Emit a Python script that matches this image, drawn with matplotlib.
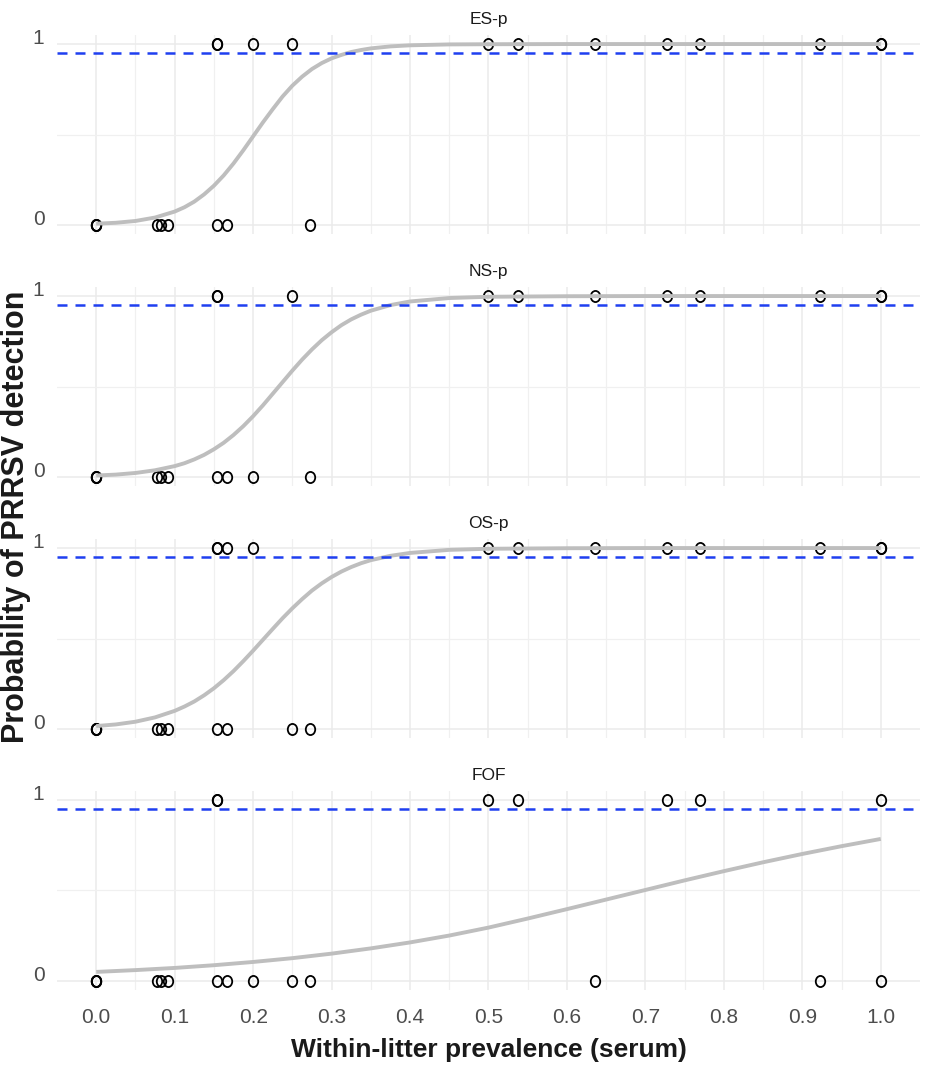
import matplotlib
matplotlib.use("Agg")
import matplotlib.pyplot as plt
from matplotlib.path import Path
import numpy as np

plt.rcParams['font.family'] = ['Liberation Sans', 'DejaVu Sans']

# panels
panels = ["ES-p", "NS-p", "OS-p", "FOF"]

# observed litters: x where detection = 1 and x where detection = 0
es_pos = [0.154, 0.154, 0.2, 0.25, 0.5, 0.538, 0.636, 0.727, 0.769, 0.923, 1.0, 1.0]
es_neg = [0, 0, 0, 0.077, 0.083, 0.091, 0.154, 0.167, 0.273]
ns_pos = [0.154, 0.154, 0.25, 0.5, 0.538, 0.636, 0.727, 0.769, 0.923, 1.0, 1.0]
ns_neg = [0, 0, 0, 0.077, 0.083, 0.091, 0.154, 0.167, 0.2, 0.273]
os_pos = [0.154, 0.154, 0.167, 0.2, 0.5, 0.538, 0.636, 0.727, 0.769, 0.923, 1.0, 1.0]
os_neg = [0, 0, 0, 0.077, 0.083, 0.091, 0.154, 0.167, 0.25, 0.273]
fof_pos = [0.154, 0.154, 0.5, 0.538, 0.727, 0.769, 1.0]
fof_neg = [0, 0, 0, 0.077, 0.083, 0.091, 0.154, 0.167, 0.2, 0.25, 0.273, 0.636, 0.923, 1.0]

# fitted curves
steep_x = [0, .025, .05, .075, .1, .1125, .125, .1375, .15, .1625, .175, .1875, .2,
           .2125, .225, .2375, .25, .2625, .275, .2875, .3, .3125, .325, .3375, .35,
           .375, .4, .45, .5, .6, .7, .8, .9, 1.0]
es_curve = [0.007, 0.012, 0.022, 0.041, 0.074, 0.098, 0.129, 0.169, 0.217, 0.274, 0.34,
            0.413, 0.49, 0.567, 0.64, 0.71, 0.77, 0.82, 0.862, 0.895, 0.921, 0.94, 0.956,
            0.967, 0.976, 0.987, 0.993, 0.998, 0.999, 1.0, 1.0, 1.0, 1.0, 1.0]
ns_curve = [0.008, 0.013, 0.022, 0.037, 0.060, 0.076, 0.097, 0.122, 0.153, 0.189, 0.232,
            0.281, 0.336, 0.396, 0.46, 0.524, 0.588, 0.649, 0.705, 0.756, 0.80, 0.839, 0.871,
            0.897, 0.919, 0.95, 0.970, 0.989, 0.996, 0.999, 1.0, 1.0, 1.0, 1.0]
os_curve = [0.016, 0.025, 0.040, 0.064, 0.10, 0.124, 0.152, 0.186, 0.225, 0.27, 0.32,
            0.375, 0.433, 0.493, 0.553, 0.612, 0.667, 0.718, 0.765, 0.805, 0.84, 0.87, 0.895,
            0.916, 0.933, 0.957, 0.973, 0.99, 0.996, 0.999, 1.0, 1.0, 1.0, 1.0]
fof_x = [0, .05, .1, .15, .2, .25, .3, .35, .4, .45, .5, .55, .6, .65, .7, .75, .8,
         .85, .9, .95, 1.0]
fof_curve = [0.05, 0.06, 0.072, 0.087, 0.105, 0.126, 0.151, 0.18, 0.213, 0.251, 0.295,
             0.345, 0.397, 0.45, 0.503, 0.556, 0.607, 0.656, 0.702, 0.745, 0.785]

threshold = 0.95

pos_all = [es_pos, ns_pos, os_pos, fof_pos]
neg_all = [es_neg, ns_neg, os_neg, fof_neg]
curves = [(steep_x, es_curve), (steep_x, ns_curve), (steep_x, os_curve), (fof_x, fof_curve)]

W, H = 935, 1074
fig = plt.figure(figsize=(W / 100, H / 100), dpi=100)

# slightly tall open circle
circ = Path.unit_circle()
ell = Path(circ.vertices * np.array([0.85, 1.0]), circ.codes)

tops = [35, 287, 539, 791]
ph = 199
left, right = 57, 920

axes = []
for i, name in enumerate(panels):
    ax = fig.add_axes([left / W, 1 - (tops[i] + ph) / H, (right - left) / W, ph / H])
    axes.append(ax)
    ax.set_xlim(-0.05, 1.05)
    ax.set_ylim(-0.05, 1.05)
    ax.set_xticks(np.arange(0, 1.01, 0.1))
    ax.set_xticks(np.arange(0.05, 1.0, 0.1), minor=True)
    ax.set_yticks([0, 1])
    ax.set_yticks([0.5], minor=True)
    ax.grid(which='major', color='#ebebeb', lw=1.1)
    ax.grid(which='minor', color='#f0f0f0', lw=0.9)
    ax.set_axisbelow(True)
    for s in ax.spines.values():
        s.set_visible(False)
    ax.tick_params(which='both', length=0, labelsize=15, labelcolor='#4d4d4d')
    ax.tick_params(axis='y', pad=9)
    for lab in ax.get_yticklabels():
        lab.set_verticalalignment('baseline')
    if i < 3:
        ax.tick_params(axis='x', labelbottom=False)
    else:
        ax.set_xticklabels([f"{v:.1f}" for v in np.arange(0, 1.01, 0.1)])
        ax.tick_params(axis='x', pad=13)

    ax.plot(pos_all[i], np.ones(len(pos_all[i])), ls='none', marker=ell, ms=8,
            mfc='none', mec='black', mew=1.3, zorder=2)
    ax.plot(neg_all[i], np.zeros(len(neg_all[i])), ls='none', marker=ell, ms=8,
            mfc='none', mec='black', mew=1.3, zorder=2)
    cx, cy = curves[i]
    ax.plot(cx, cy, color='#bebebe', lw=2.8, solid_capstyle='butt',
            solid_joinstyle='round', zorder=3)
    ax.axhline(threshold, color='#1f3ff0', lw=1.8, dashes=(4.0, 3.2), zorder=4)
    ax.set_title(name, fontsize=12.5, color='#1a1a1a', pad=8)

axes[-1].set_xlabel("Within-litter prevalence (serum)", fontsize=19, fontweight='bold',
                    color='#1a1a1a', labelpad=8)
fig.text(16 / W, 1 - 517 / H, "Probability of PRRSV detection", rotation=90,
         fontsize=22, fontweight='bold', color='#1a1a1a', ha='center', va='center')

fig.savefig("out.png", dpi=100)
